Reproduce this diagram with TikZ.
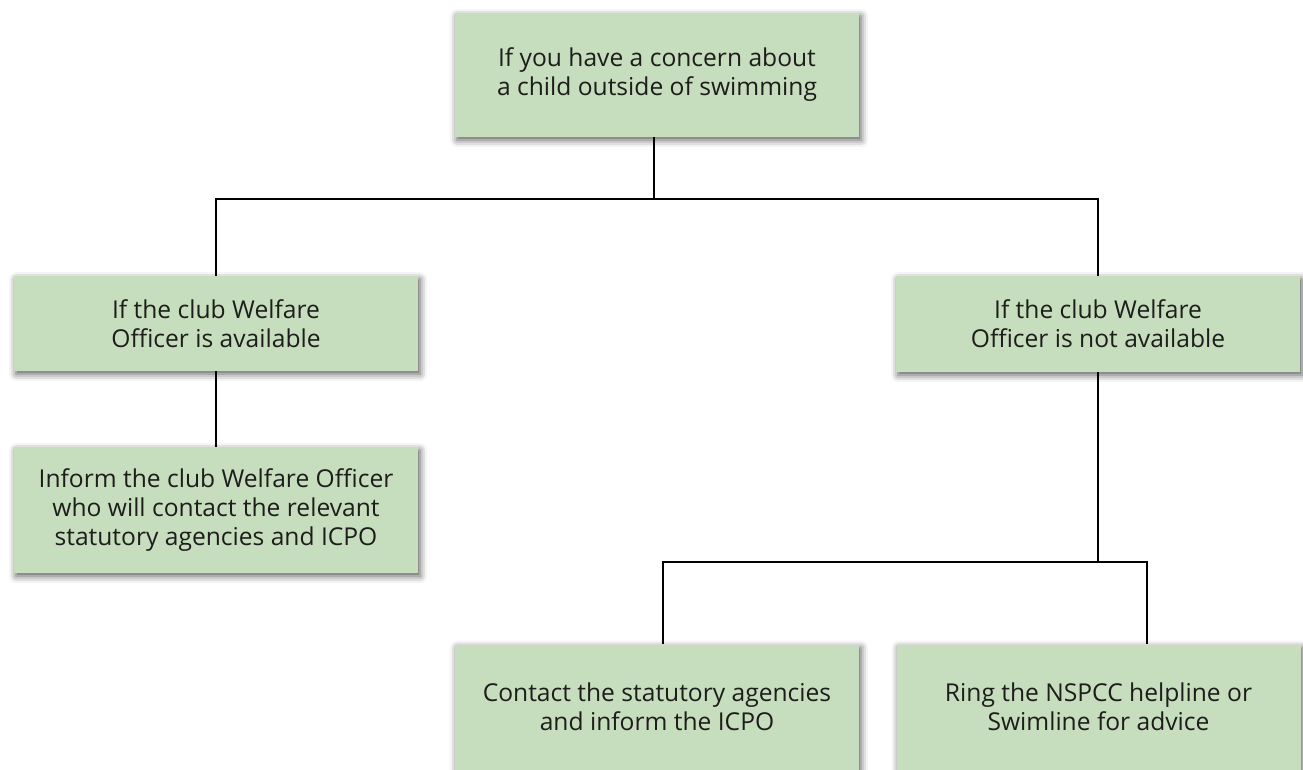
\documentclass[tikz,border=0pt]{standalone}
\usepackage{fontspec}
\setmainfont{Open Sans}
\usetikzlibrary{shadows.blur}
\definecolor{boxgreen}{HTML}{C6DEBD}
\definecolor{txt}{HTML}{1D1D1B}
\tikzset{
  flowbox/.style={fill=boxgreen, minimum width=8.08cm, align=center, text=txt,
    font=\fontsize{14}{16.5}\selectfont,
    blur shadow={shadow xshift=1.2pt, shadow yshift=-1.8pt, shadow blur radius=4pt, shadow opacity=65}},
  conn/.style={black, line width=1.6pt}
}
\begin{document}
\begin{tikzpicture}
\useasboundingbox (0,0) rectangle (26.06,-15.38);
\node[flowbox, minimum height=2.48cm] (top) at (13.14,-1.5) {If you have a concern about\\a child outside of swimming};
\node[flowbox, minimum height=1.9cm] (avail) at (4.32,-6.47) {If the club Welfare\\Officer is available};
\node[flowbox, minimum height=2.52cm] (inform) at (4.32,-10.2) {Inform the club Welfare Officer\\who will contact the relevant\\statutory agencies and ICPO};
\node[flowbox, minimum height=1.92cm] (notavail) at (21.96,-6.48) {If the club Welfare\\Officer is not available};
\node[flowbox, minimum height=2.5cm] (contact) at (13.14,-14.14) {Contact the statutory agencies\\and inform the ICPO};
\node[flowbox, minimum height=2.5cm] (ring) at (21.97,-14.14) {Ring the NSPCC helpline or\\Swimline for advice};

\coordinate (j1) at (13.08,-3.98);
\coordinate (j2) at (21.96,-11.24);
\draw[conn] ([xshift=-0.06cm]top.south) -- (j1);
\draw[conn] (avail.north) |- (j1) -| (notavail.north);
\draw[conn] (avail.south) -- (inform.north);
\draw[conn] (notavail.south) -- (j2);
\draw[conn] ([xshift=0.12cm]contact.north) |- (j2) -| ([xshift=0.97cm]ring.north);
\end{tikzpicture}
\end{document}
